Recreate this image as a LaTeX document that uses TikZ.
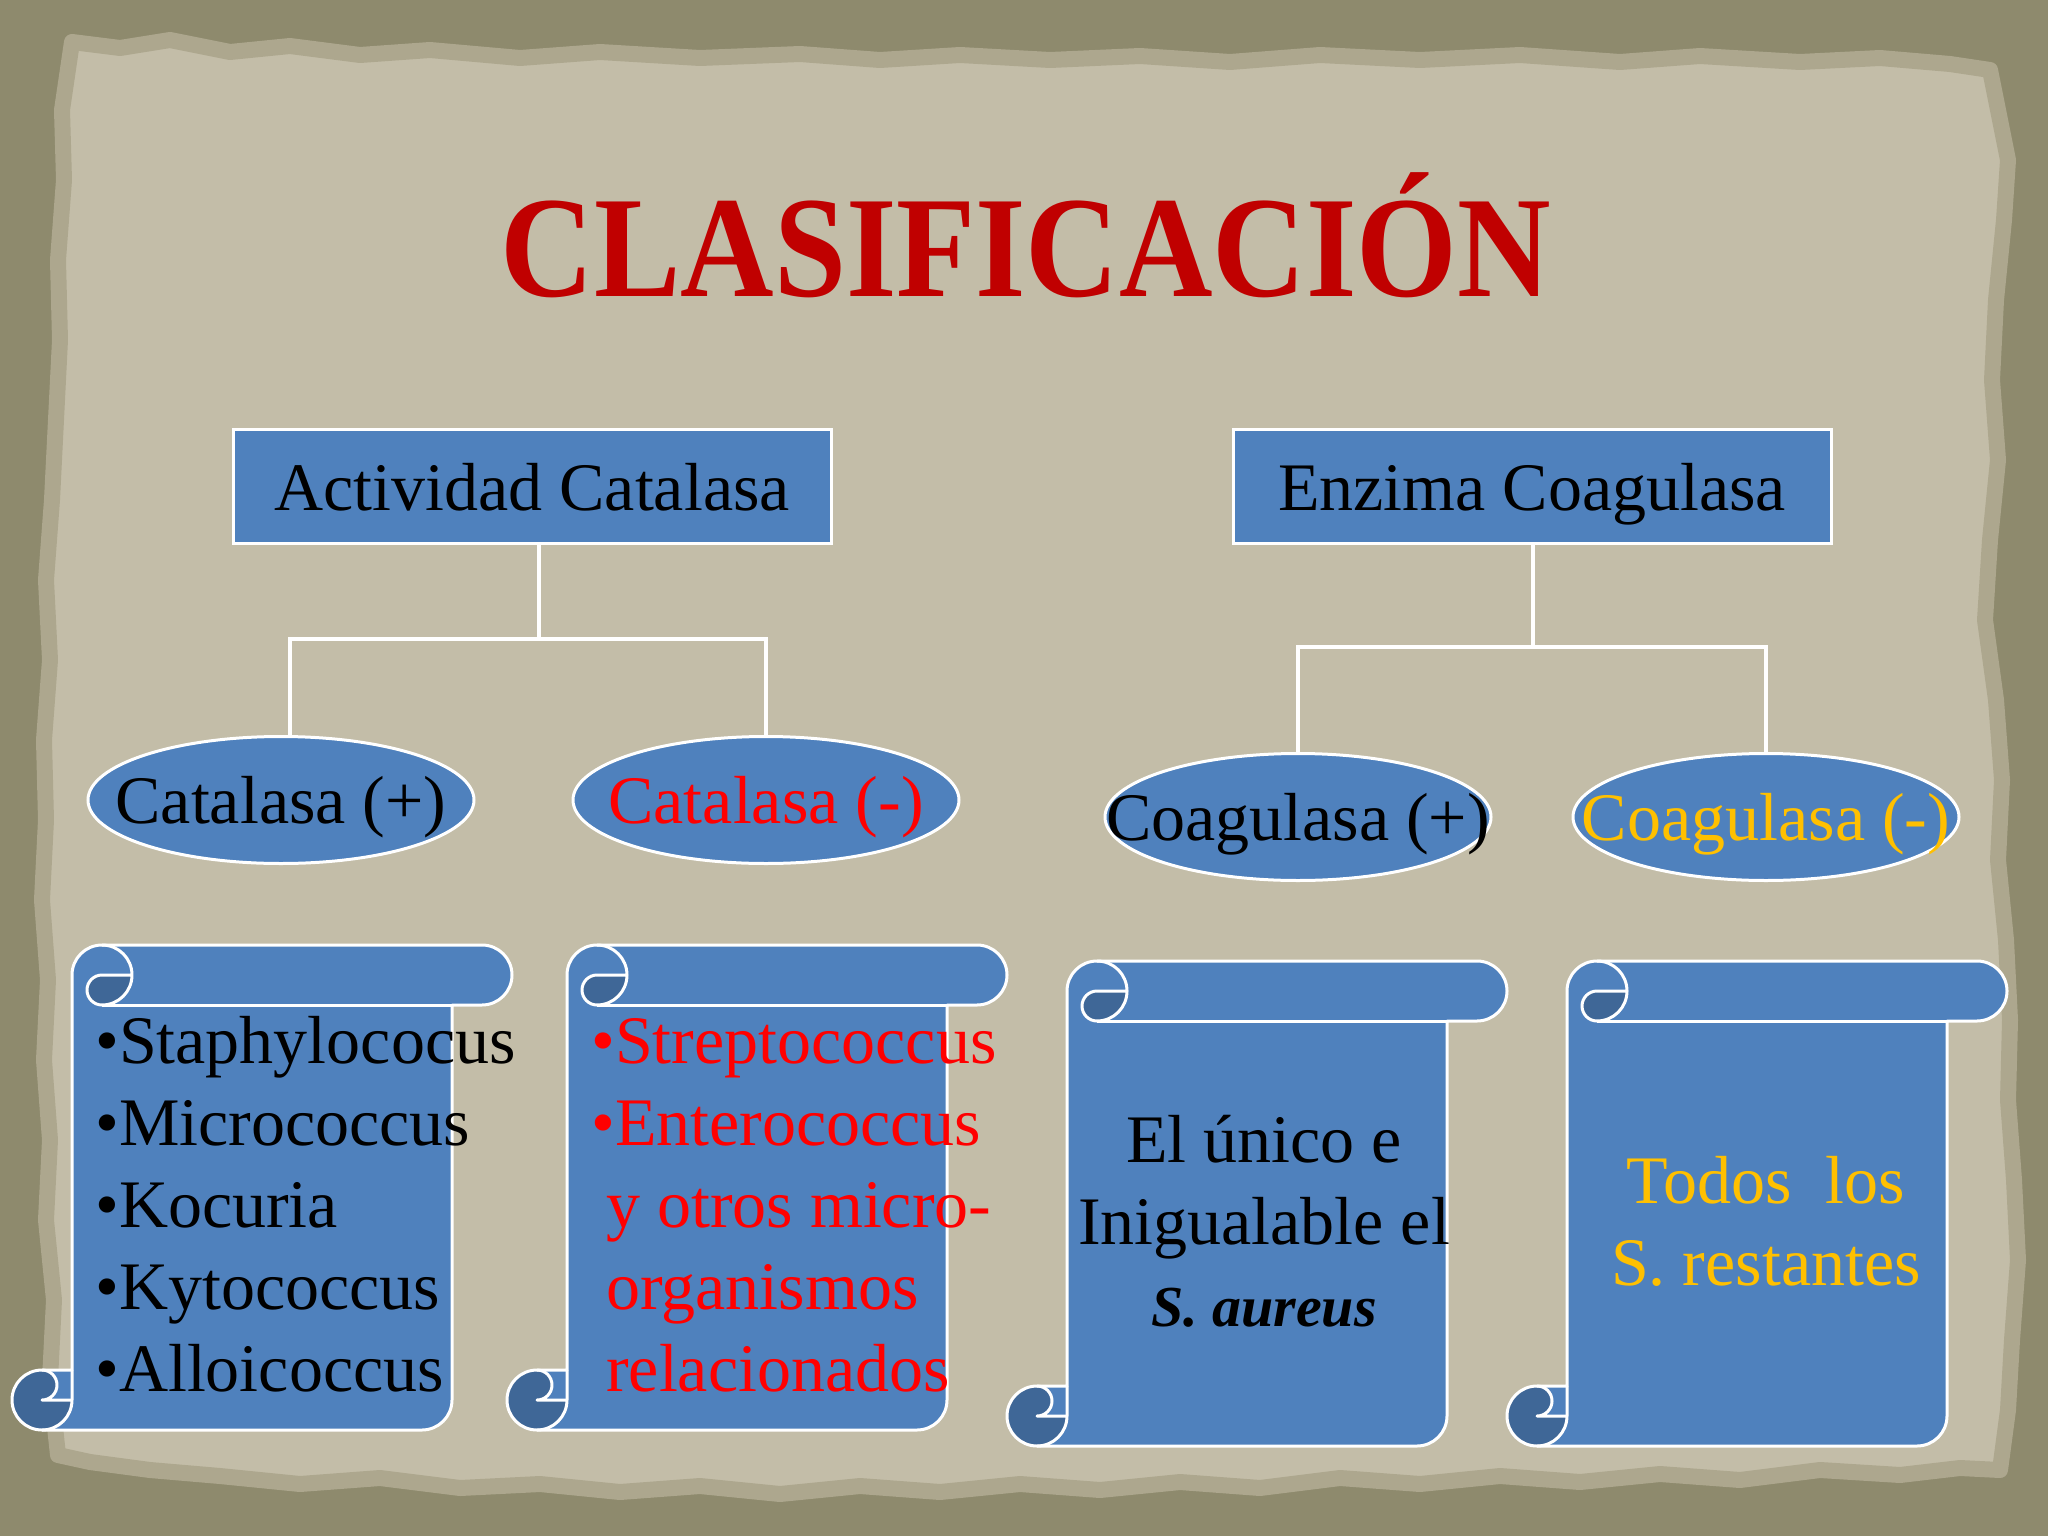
\documentclass[tikz,border=0pt]{standalone}
\usepackage{fontspec}
\setmainfont{Liberation Serif}
\usepackage{graphicx}
\usetikzlibrary{shapes.geometric}
\definecolor{bgout}{HTML}{8E8A6D}
\definecolor{paper}{HTML}{C3BDA8}
\definecolor{paperedge}{HTML}{ADA78E}
\definecolor{sblue}{HTML}{4F81BD}
\definecolor{sdark}{HTML}{3F6797}
\definecolor{tred}{HTML}{C00000}
\definecolor{bred}{HTML}{FF0000}
\definecolor{gold}{HTML}{FFC000}
\newcommand\bodyfont{\fontsize{68}{82}\selectfont}
\tikzset{
  conn/.style={draw=white, line width=3.5pt},
  scrollline/.style={draw=white, line width=3pt, line join=round},
  rectbox/.style={rectangle, draw=white, line width=3pt, fill=sblue,
    minimum width=598pt, minimum height=114pt, inner sep=0pt,
    text height=48pt, text depth=0pt, font=\bodyfont},
  oval/.style={ellipse, draw=white, line width=3pt, fill=sblue,
    minimum width=386pt, minimum height=127pt, inner sep=0pt},
  lbl/.style={inner sep=0pt, font=\bodyfont, text height=46pt, text depth=0pt},
  scrolltext/.style={inner sep=0pt, font=\bodyfont},
  scroll/.pic={
    \fill[sblue] (60,425) -- (60,30) arc[start angle=180,end angle=270,radius=30]
      -- (470,0) arc[start angle=-90,end angle=90,radius=30] -- (440,60)
      -- (440,455) arc[start angle=0,end angle=90,radius=30] -- (30,485)
      arc[start angle=90,end angle=270,radius=30] -- cycle;
    \fill[sdark] (120,30) arc[start angle=0,end angle=90,radius=30]
      arc[start angle=90,end angle=270,radius=15] -- cycle;
    \fill[sdark] (60,455) arc[start angle=0,end angle=270,radius=30]
      arc[start angle=-90,end angle=90,radius=15] -- cycle;
    \draw[scrollline] (60,425) -- (60,30) arc[start angle=180,end angle=270,radius=30]
      -- (470,0) arc[start angle=-90,end angle=90,radius=30] -- (440,60)
      -- (440,455) arc[start angle=0,end angle=90,radius=30] -- (30,485)
      arc[start angle=90,end angle=270,radius=30] -- cycle;
    \draw[scrollline] (90,0) arc[start angle=-90,end angle=90,radius=30]
      arc[start angle=90,end angle=270,radius=15] -- (120,30);
    \draw[scrollline] (440,60) -- (90,60);
    \draw[scrollline] (30,425) arc[start angle=-90,end angle=90,radius=15] -- (60,455);
    \draw[scrollline] (30,485) arc[start angle=90,end angle=0,radius=30] -- (60,425);
  }
}
\begin{document}
\begin{tikzpicture}[x=1pt, y=-1pt]
\useasboundingbox (0,0) rectangle (2048,1536);
\fill[bgout] (0,0) rectangle (2048,1536);
% paper
\filldraw[fill=paper, draw=paperedge, line width=16pt, line join=round]
 (72,42) -- (120,48) -- (170,40) -- (230,52) -- (290,46) -- (360,55) -- (430,50) -- (520,58)
 -- (600,52) -- (700,58) -- (800,54) -- (880,60) -- (960,55) -- (1050,60) -- (1140,56)
 -- (1230,62) -- (1320,55) -- (1420,60) -- (1520,55) -- (1620,62) -- (1700,56) -- (1800,62)
 -- (1880,58) -- (1950,64) -- (1990,70)
 -- (1998,110) -- (2008,160) -- (2004,220) -- (1996,300) -- (1992,380) -- (1998,460)
 -- (1990,540) -- (1985,620) -- (1996,700) -- (2002,780) -- (1998,860) -- (2006,940)
 -- (2010,1020) -- (2008,1100) -- (2014,1180) -- (2018,1260) -- (2012,1340) -- (2008,1410)
 -- (2000,1470)
 -- (1960,1468) -- (1900,1475) -- (1820,1470) -- (1740,1480) -- (1660,1474) -- (1580,1482)
 -- (1500,1476) -- (1420,1484) -- (1340,1478) -- (1260,1488) -- (1180,1482) -- (1100,1490)
 -- (1020,1484) -- (940,1492) -- (860,1486) -- (780,1494) -- (700,1486) -- (620,1492)
 -- (540,1484) -- (460,1488) -- (380,1478) -- (300,1484) -- (220,1476) -- (150,1470)
 -- (90,1462) -- (58,1455)
 -- (50,1380) -- (54,1300) -- (46,1220) -- (50,1140) -- (44,1060) -- (48,980) -- (42,900)
 -- (46,820) -- (44,740) -- (50,660) -- (46,580) -- (52,500) -- (56,420) -- (60,340)
 -- (58,260) -- (64,180) -- (62,110) -- cycle;

% title
\node[anchor=base, inner sep=0pt, text=tred] (title) at (1026,296)
  {\scalebox{1}[1.115]{\fontsize{129.5}{130}\selectfont\bfseries CLASIFICACIÓN}};

% headers
\node[rectbox] (act) at (532,486) {Actividad Catalasa};
\node[rectbox] (enz) at (1532,486) {Enzima Coagulasa};

% ovals
\node[oval] (cp) at (281,800) {};
\node[oval] (cm) at (766,800) {};
\node[oval] (gp) at (1298,817) {};
\node[oval] (gm) at (1766,817) {};
\node[lbl] (cpl) at (cp.center) {Catalasa (+)};
\node[lbl, text=bred] (cml) at (cm.center) {Catalasa (-)};
\node[lbl] (gpl) at (gp.center) {Coagulasa (+)};
\node[lbl, text=gold] (gml) at (gm.center) {Coagulasa (-)};

% connectors
\coordinate (j1) at (539,639);
\draw[conn] (j1 |- act.south) -- (j1);
\draw[conn] ([xshift=9pt]cp.north) |- (j1) -| (cm.north);
\coordinate (j2) at (1533,647);
\draw[conn] (j2 |- enz.south) -- (j2);
\draw[conn] (gp.north) |- (j2) -| (gm.north);

% scrolls
\pic (s1) at (12,945) {scroll};
\pic (s2) at (507,945) {scroll};
\pic (s3) at (1007,961) {scroll};
\pic (s4) at (1507,961) {scroll};

\node[scrolltext, anchor=base west] (t1) at (95,1063)
  {\begin{tabular}[t]{@{}l@{}}•Staphylococus\\•Micrococcus\\•Kocuria\\•Kytococcus\\•Alloicoccus\end{tabular}};
\node[scrolltext, anchor=base west, text=bred] (t2) at (591,1063)
  {\begin{tabular}[t]{@{}l@{}}•Streptococcus\\•Enterococcus\\\hspace*{15pt}y otros micro-\\\hspace*{15pt}organismos\\\hspace*{15pt}relacionados\end{tabular}};
\node[scrolltext, anchor=base] (t3) at (1264,1162)
  {\begin{tabular}[t]{@{}c@{}}El único e\\Inigualable el\\{\fontsize{58}{70}\selectfont\textbf{\textit{S. aureus}}}\end{tabular}};
\node[scrolltext, anchor=base, text=gold] (t4) at (1766,1203)
  {\begin{tabular}[t]{@{}c@{}}Todos\ \ los\\S. restantes\end{tabular}};
\end{tikzpicture}
\end{document}
